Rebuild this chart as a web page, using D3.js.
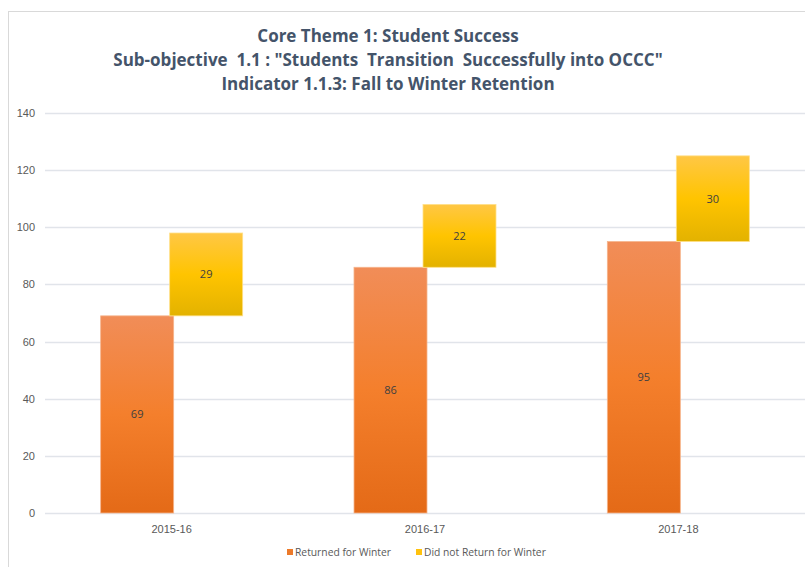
<!DOCTYPE html>
<html>
<head>
<meta charset="utf-8">
<script src="https://cdn.jsdelivr.net/npm/d3@7"></script>
<style>
 body { margin: 0; background: #fff; }
 svg { font-family: "Open Sans", "Liberation Sans", sans-serif; }
 .title { font-weight: bold; fill: #44546a; font-size: 17px; }
 .tick text { fill: #595959; font-size: 11px; }
 .lbl { fill: #404040; font-size: 11px; }
 .leg { fill: #595959; font-size: 10.3px; }
</style>
</head>
<body>
<svg width="805" height="567"></svg>
<script>
var years = ["2015-16", "2016-17", "2017-18"];
var returned = [69, 86, 95];
var notReturned = [29, 22, 30];
var yTicks = [0, 20, 40, 60, 80, 100, 120, 140];
var titleLines = [
  "Core Theme 1: Student Success",
  "Sub-objective  1.1 : \"Students  Transition  Successfully into OCCC\"",
  "Indicator 1.1.3: Fall to Winter Retention"
];
var seriesNames = ["Returned for Winter", "Did not Return for Winter"];

var svg = d3.select("svg");
var defs = svg.append("defs");

function grad(id, stops) {
  var g = defs.append("linearGradient").attr("id", id)
    .attr("x1", 0).attr("y1", 0).attr("x2", 0).attr("y2", 1);
  stops.forEach(function(s) {
    g.append("stop").attr("offset", s[0]).attr("stop-color", s[1]);
  });
}
grad("gOrange", [[0, "#f18d58"], [0.5, "#f47f2c"], [1, "#e46a17"]]);
grad("gYellow", [[0, "#ffc745"], [0.5, "#ffc400"], [1, "#e3b200"]]);

// chart frame
svg.append("line").attr("x1", 8).attr("x2", 805).attr("y1", 11.5).attr("y2", 11.5)
  .attr("stroke", "#d9d9d9");
svg.append("line").attr("x1", 8.5).attr("x2", 8.5).attr("y1", 11).attr("y2", 567)
  .attr("stroke", "#d9d9d9");

// title
svg.selectAll(".title").data(titleLines).enter().append("text")
  .attr("class", "title")
  .attr("x", 388)
  .attr("y", function(d, i) { return 42 + i * 24; })
  .attr("text-anchor", "middle")
  .style("white-space", "pre")
  .text(function(d) { return d; });

var margin = {left: 45, top: 113, right: 0, bottom: 54};
var plotW = 805 - margin.left - margin.right;
var g = svg.append("g").attr("transform", "translate(" + margin.left + "," + margin.top + ")");

var x = d3.scaleBand().domain(years).range([0, plotW]);
var y = d3.scaleLinear().domain([0, 140]).range([400, 0]);

// gridlines
g.selectAll(".grid").data(yTicks).enter().append("line")
  .attr("x1", 0).attr("x2", plotW)
  .attr("y1", function(d) { return Math.round(y(d)) + 0.5; })
  .attr("y2", function(d) { return Math.round(y(d)) + 0.5; })
  .attr("stroke", "#e1e4ea").attr("stroke-width", 1.3);

var yAxis = g.append("g").call(d3.axisLeft(y).tickValues(yTicks).tickSize(0).tickPadding(10));
yAxis.select(".domain").remove();

var xAxis = g.append("g").attr("transform", "translate(0,400)")
  .call(d3.axisBottom(x).tickSize(0).tickPadding(12));
xAxis.select(".domain").remove();

var barW = 73;
var cx = function(i) { return x(years[i]) + x.bandwidth() / 2; };

// returned bars
g.selectAll(".ret").data(returned).enter().append("rect")
  .attr("x", function(d, i) { return cx(i) - 71; })
  .attr("width", barW)
  .attr("y", function(d) { return y(d); })
  .attr("height", function(d) { return y(0) - y(d); })
  .attr("fill", "url(#gOrange)")
  .attr("stroke", "#f6b48c").attr("stroke-width", 0.8);

// not returned bars, floating on top of returned
g.selectAll(".nret").data(notReturned).enter().append("rect")
  .attr("x", function(d, i) { return cx(i) - 2; })
  .attr("width", barW)
  .attr("y", function(d, i) { return y(returned[i] + d); })
  .attr("height", function(d, i) { return y(returned[i]) - y(returned[i] + d); })
  .attr("fill", "url(#gYellow)")
  .attr("stroke", "#ffe08a").attr("stroke-width", 0.8);

// labels
g.selectAll(".lr").data(returned).enter().append("text")
  .attr("class", "lbl")
  .attr("x", function(d, i) { return cx(i) - 71 + barW / 2; })
  .attr("y", function(d) { return y(d / 2) + 4; })
  .attr("text-anchor", "middle")
  .text(function(d) { return d; });
g.selectAll(".ln").data(notReturned).enter().append("text")
  .attr("class", "lbl")
  .attr("x", function(d, i) { return cx(i) - 2 + barW / 2; })
  .attr("y", function(d, i) { return y(returned[i] + d / 2) + 4; })
  .attr("text-anchor", "middle")
  .text(function(d) { return d; });

// legend
var legX = [287, 416];
var legColors = ["#ec7a2a", "#ffc20e"];
var leg = svg.selectAll(".legItem").data(seriesNames).enter().append("g")
  .attr("transform", function(d, i) { return "translate(" + legX[i] + ",553)"; });
leg.append("rect").attr("x", 0).attr("y", -4).attr("width", 6).attr("height", 6)
  .attr("fill", function(d, i) { return legColors[i]; });
leg.append("text").attr("class", "leg").attr("x", 8).attr("y", 3)
  .text(function(d) { return d; });
</script>
</body>
</html>
